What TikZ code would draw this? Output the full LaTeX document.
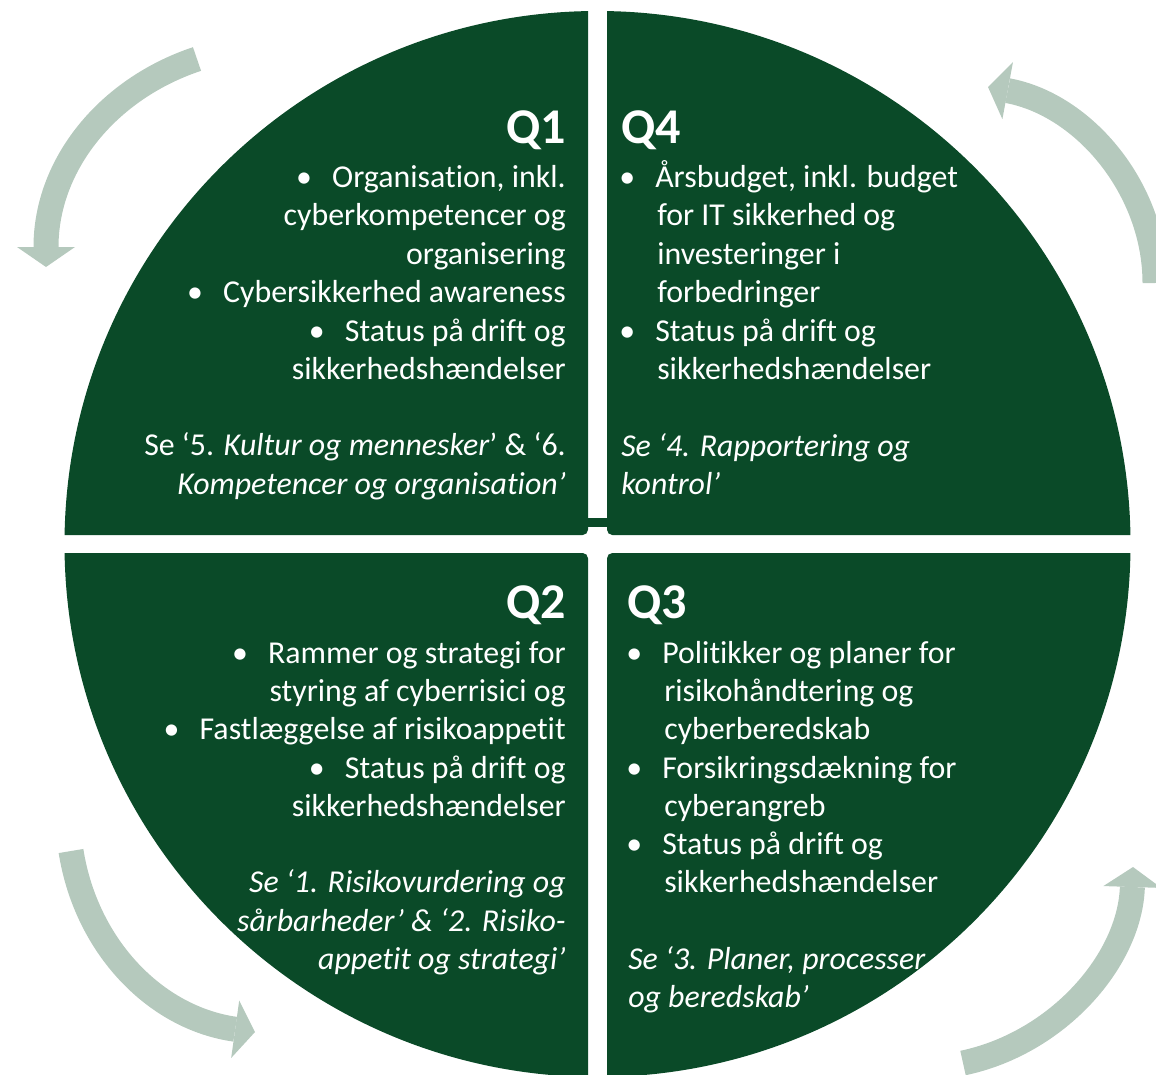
\documentclass[tikz,border=0pt]{standalone}
\usepackage{fontspec}
\setmainfont{Carlito}[Ligatures=NoCommon]
\usetikzlibrary{arrows.meta}
\definecolor{qgreen}{HTML}{0A4A28}
\definecolor{agrey}{HTML}{B5C9BD}
\newcommand{\bul}{\makebox[27pt][l]{•}}
\begin{document}
\begin{tikzpicture}[x=0.75pt,y=-0.75pt,
  txt/.style={text=white, inner sep=0pt, font=\fontsize{23.9pt}{29pt}\selectfont},
  hd/.style={text=white, inner sep=0pt, font=\fontsize{37.5pt}{40pt}\selectfont\bfseries},
  rt/.style={txt, anchor=base east},
  lt/.style={txt, anchor=base west},
  cyc/.style={draw=agrey, line width=18.75pt, line cap=butt,
    -{Triangle[width=43.5pt,length=15pt,line width=0pt]}}]
\useasboundingbox (0,0) rectangle (1156,1074);
\clip (0,0) rectangle (1156,1074);

% quadrants
\begin{scope}
  \clip[rounded corners=4] (0,0) rectangle (588,535);
  \fill[qgreen] (597.5,544) circle (533);
\end{scope}
\begin{scope}
  \clip[rounded corners=4] (607,0) rectangle (1200,535);
  \fill[qgreen] (597.5,544) circle (533);
\end{scope}
\begin{scope}
  \clip[rounded corners=4] (0,553) rectangle (588,1150);
  \fill[qgreen] (597.5,544) circle (533);
\end{scope}
\begin{scope}
  \clip[rounded corners=4] (607,553) rectangle (1200,1150);
  \fill[qgreen] (597.5,544) circle (533);
\end{scope}
\fill[qgreen] (586,518) rectangle (609,527);

% cycle arrows
\coordinate (a1s) at (197,59);   \coordinate (a1e) at (46,267);
\coordinate (a2s) at (1155,283); \coordinate (a2e) at (988,87);
\coordinate (a3s) at (963,1063); \coordinate (a3e) at (1133,867);
\coordinate (a4s) at (71,851);   \coordinate (a4e) at (255,1032);
\draw[cyc] (a1s) .. controls (107,89) and (46,165) .. (a1e);
\draw[cyc] (a2s) .. controls (1155,190) and (1085,105) .. (a2e);
\draw[cyc] (a3s) .. controls (1058,1043) and (1130,960) .. (a3e);
\draw[cyc] (a4s) .. controls (86,946) and (155,1018) .. (a4e);

% Q1
\node[hd, anchor=base east] (q1) at (566,143) {Q1};
\node[rt] (q1a) at (566,187) {\bul Organisation, inkl.};
\node[rt] (q1b) at (566,225.5) {cyberkompetencer og};
\node[rt] (q1c) at (566,264) {organisering};
\node[rt] (q1d) at (566,302.5) {\bul Cybersikkerhed awareness};
\node[rt] (q1e) at (566,341) {\bul Status på drift og};
\node[rt] (q1f) at (566,379.5) {sikkerhedshændelser};
\node[rt] (q1g) at (566,455) {Se ‘5. \textit{Kultur og mennesker}’ \& ‘6.};
\node[rt] (q1h) at (566,494) {\textit{Kompetencer og organisation’}};

% Q4
\node[hd, anchor=base west] (q4) at (621,143) {Q4};
\node[lt] (q4a) at (619,187) {\bul Årsbudget, inkl. budget};
\node[lt] (q4b) at (657,225.5) {for IT sikkerhed og};
\node[lt] (q4c) at (657,264) {investeringer i};
\node[lt] (q4d) at (657,302.5) {forbedringer};
\node[lt] (q4e) at (619,341) {\bul Status på drift og};
\node[lt] (q4f) at (657,379.5) {sikkerhedshændelser};
\node[lt] (q4g) at (621,456) {\textit{Se ‘4. Rapportering og}};
\node[lt] (q4h) at (621,494) {\textit{kontrol’}};

% Q2
\node[hd, anchor=base east] (q2) at (566,618) {Q2};
\node[rt] (q2a) at (566,663) {\bul Rammer og strategi for};
\node[rt] (q2b) at (566,701) {styring af cyberrisici og};
\node[rt] (q2c) at (566,739) {\bul Fastlæggelse af risikoappetit};
\node[rt] (q2d) at (566,778) {\bul Status på drift og};
\node[rt] (q2e) at (566,816) {sikkerhedshændelser};
\node[rt] (q2f) at (566,892) {\textit{Se ‘1. Risikovurdering og}};
\node[rt] (q2g) at (566,931) {\textit{sårbarheder’ \& ‘2. Risiko-}};
\node[rt] (q2h) at (566,969) {\textit{appetit og strategi’}};

% Q3
\node[hd, anchor=base west] (q3) at (627,618) {Q3};
\node[lt] (q3a) at (626,663) {\bul Politikker og planer for};
\node[lt] (q3b) at (664,701) {risikohåndtering og};
\node[lt] (q3c) at (664,739) {cyberberedskab};
\node[lt] (q3d) at (626,778) {\bul Forsikringsdækning for};
\node[lt] (q3e) at (664,816) {cyberangreb};
\node[lt] (q3f) at (626,854) {\bul Status på drift og};
\node[lt] (q3g) at (664,892) {sikkerhedshændelser};
\node[lt] (q3h) at (628,969) {\textit{Se ‘3. Planer, processer}};
\node[lt] (q3i) at (628,1007) {\textit{og beredskab’}};
\end{tikzpicture}
\end{document}
